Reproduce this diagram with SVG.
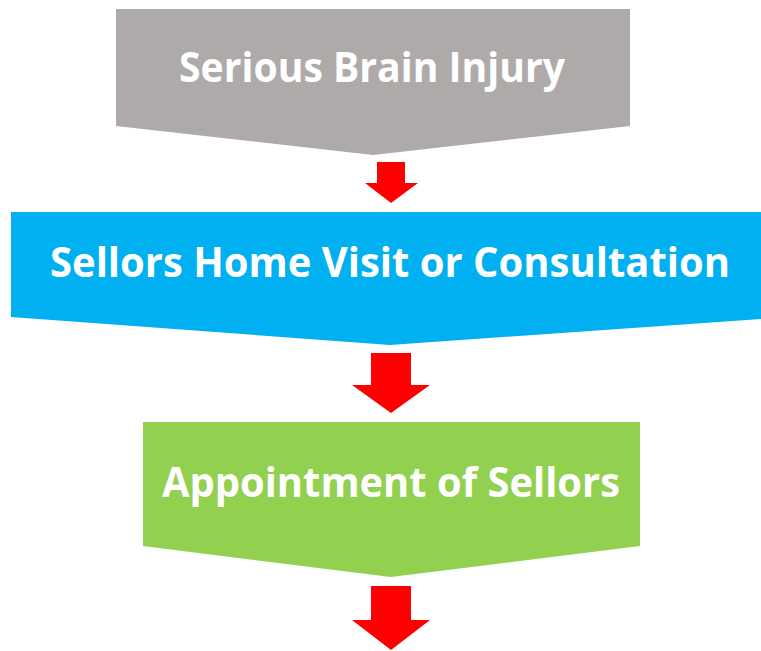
<svg xmlns="http://www.w3.org/2000/svg" width="761" height="651" viewBox="0 0 761 651">
  <style>
    .lbl { font-family: "Open Sans", "Liberation Sans", sans-serif; font-weight: bold; font-size: 41px; fill: #FFFFFF; text-anchor: middle; }
    .arrow { fill: #FF0000; }
  </style>
  <rect width="761" height="651" fill="#FFFFFF"/>
  <g id="node-injury">
    <polygon points="116,9 630,9 630,126 373,155 116,126" fill="#AEAAAA"/>
    <text class="lbl" x="372" y="82" textLength="386" lengthAdjust="spacingAndGlyphs">Serious Brain Injury</text>
  </g>
  <g id="node-visit">
    <polygon points="11,212 761,212 761,319 390,345 11,317" fill="#00B0F0"/>
    <text class="lbl" x="390" y="277" textLength="680" lengthAdjust="spacingAndGlyphs">Sellors Home Visit or Consultation</text>
  </g>
  <g id="node-appointment">
    <polygon points="143,422 640,422 640,546 391,577 143,546" fill="#92D050"/>
    <text class="lbl" x="391" y="497" textLength="458" lengthAdjust="spacingAndGlyphs">Appointment of Sellors</text>
  </g>
  <g id="connectors">
    <polygon class="arrow" points="377,162 405,162 405,183 418,183 391,203 365,183 377,183"/>
    <polygon class="arrow" points="371,353 411,353 411,385 430,385 391,413 352,385 371,385"/>
    <polygon class="arrow" points="371,586 411,586 411,620 430,620 391,650 352,620 371,620"/>
  </g>
</svg>
